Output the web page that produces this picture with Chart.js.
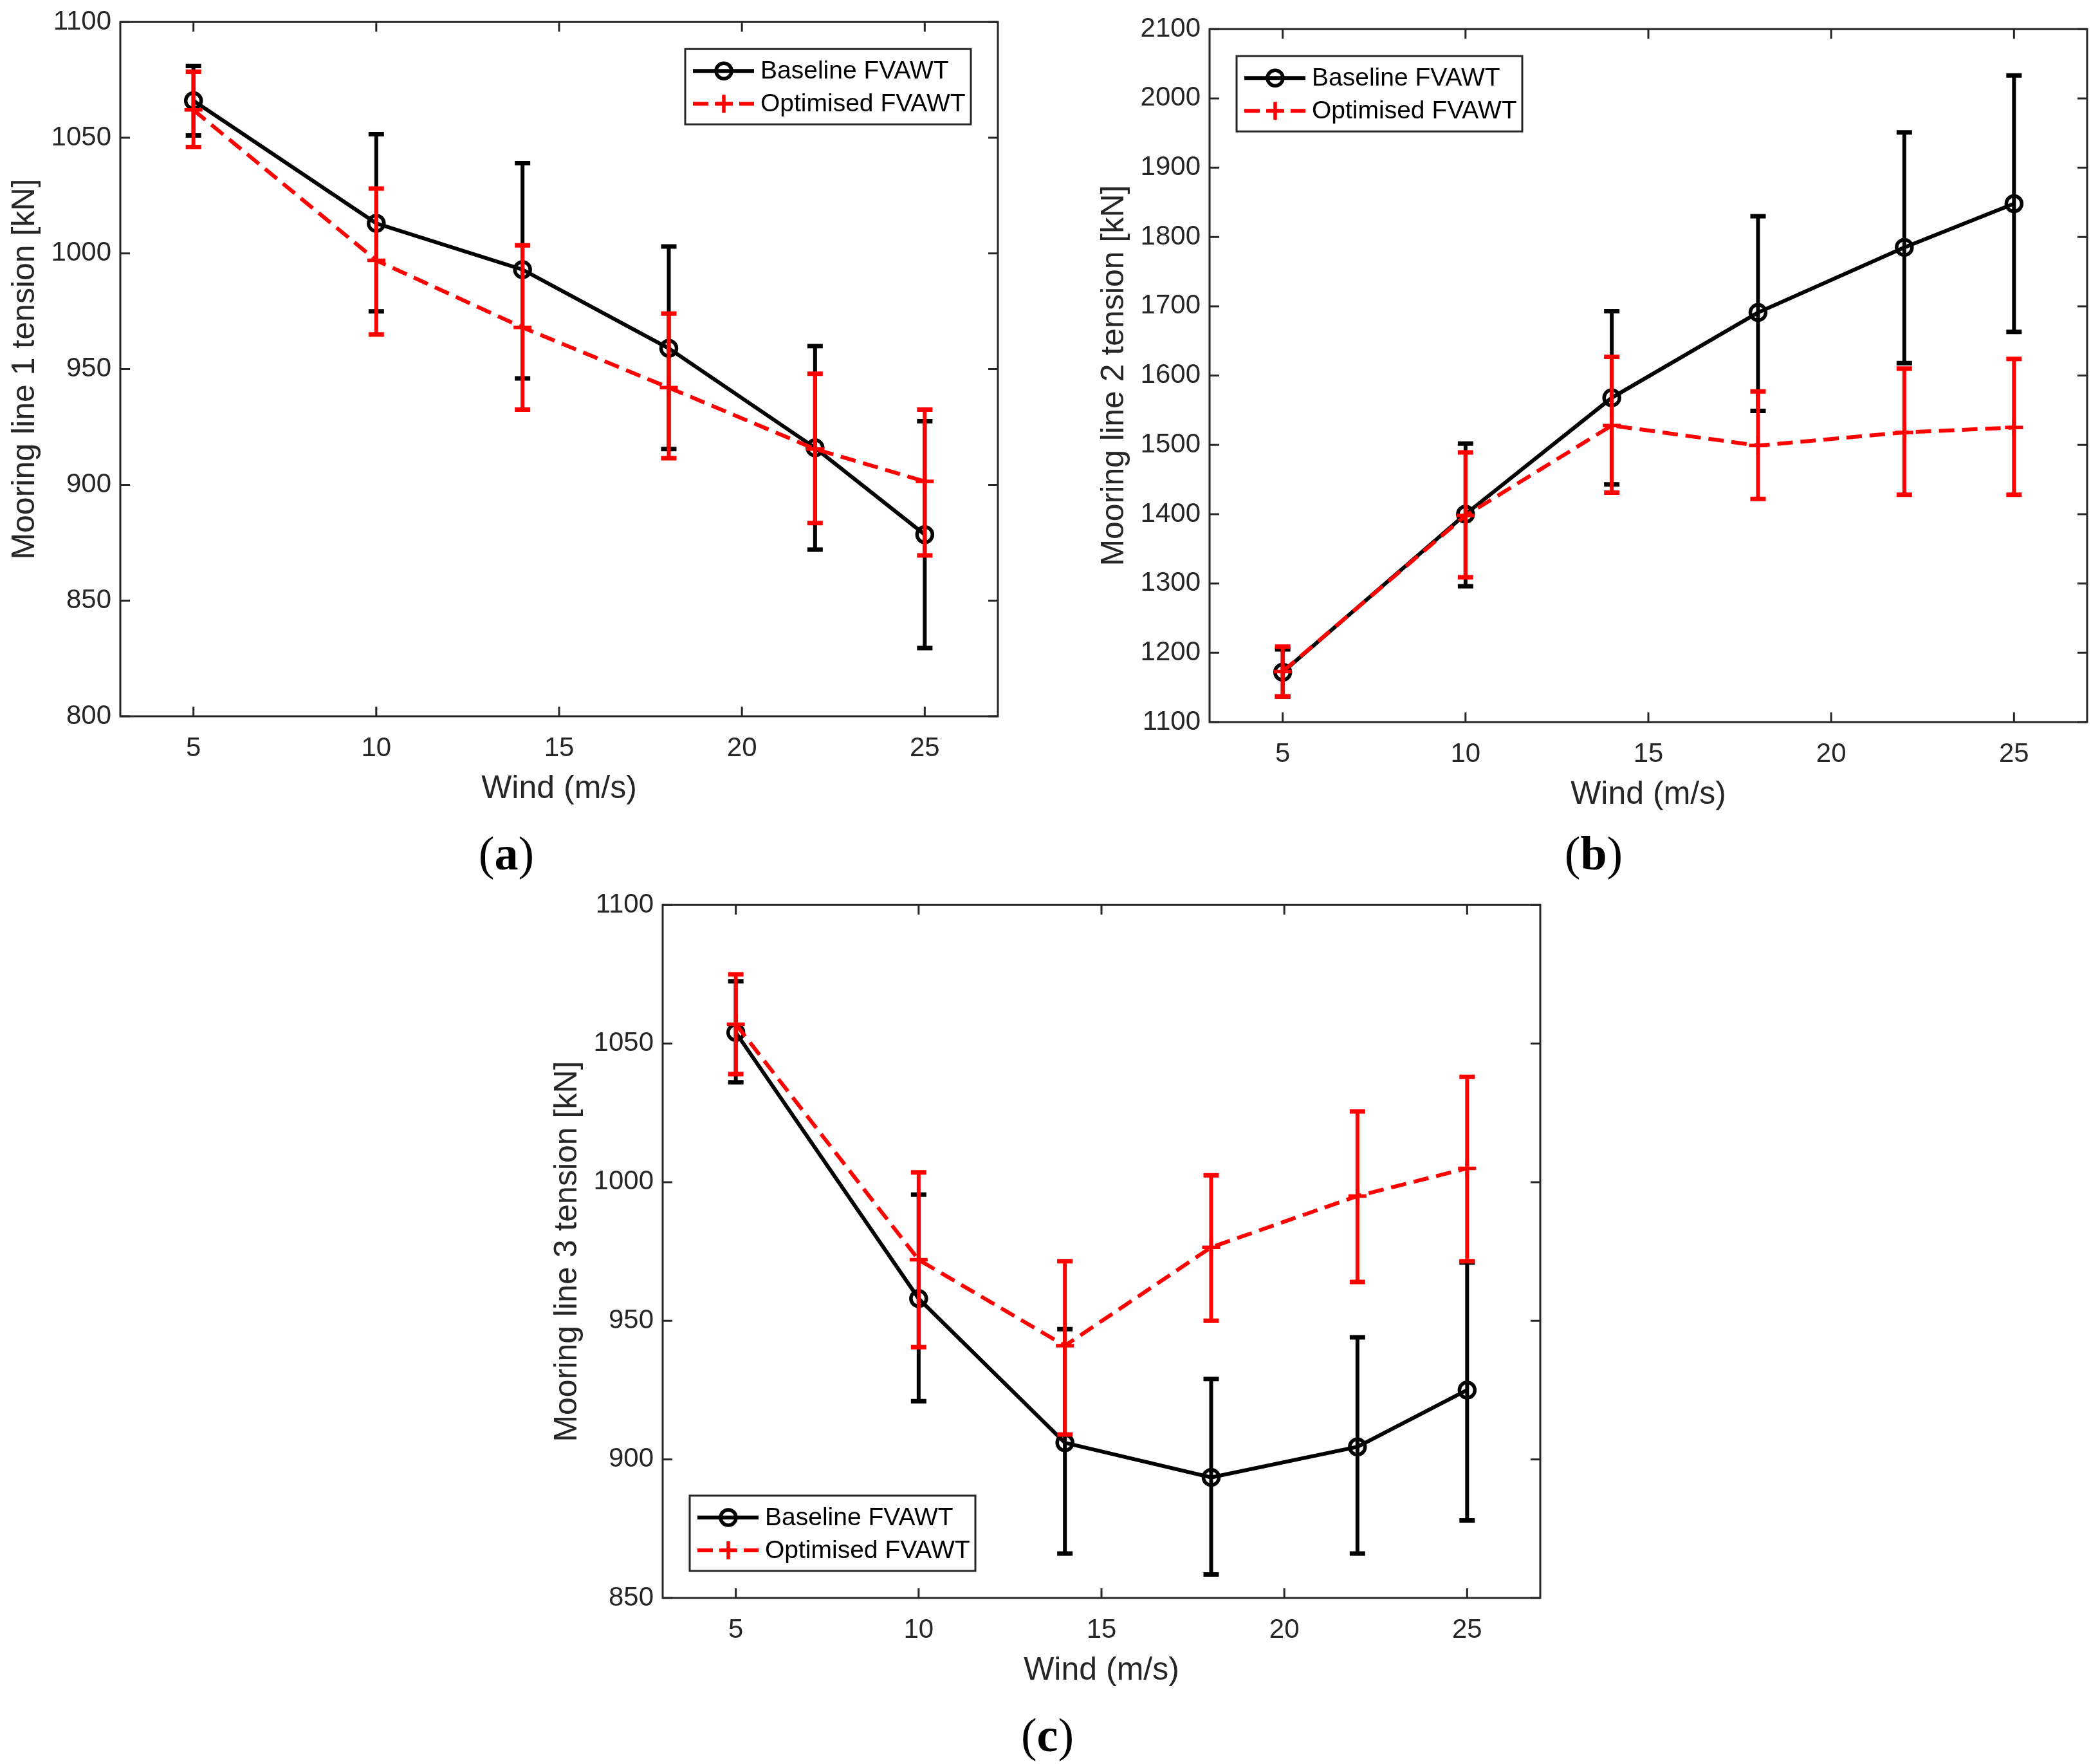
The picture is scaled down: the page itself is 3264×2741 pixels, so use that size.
<!DOCTYPE html>
<html>
<head>
<meta charset="utf-8">
<script src="https://cdn.jsdelivr.net/npm/chart.js@4.4.0/dist/chart.umd.min.js"></script>
<style>
html,body{margin:0;padding:0;background:#fff;width:3264px;height:2741px;overflow:hidden;position:relative;}
canvas{position:absolute;}
.lab{position:absolute;font-family:"Liberation Serif","DejaVu Serif",serif;font-size:74px;color:#000;transform:translate(-50%,-50%);white-space:nowrap;}
</style>
</head>
<body>
<canvas id="ca" width="1570" height="1304" style="left:1px;top:-5px;width:1570px;height:1304px"></canvas>
<canvas id="cb" width="1570" height="1302" style="left:1694px;top:6px;width:1570px;height:1302px"></canvas>
<canvas id="cc" width="1570" height="1302" style="left:844px;top:1367px;width:1570px;height:1302px"></canvas>
<div class="lab" style="left:787px;top:1326px">(<b>a</b>)</div>
<div class="lab" style="left:2477px;top:1326px">(<b>b</b>)</div>
<div class="lab" style="left:1628px;top:2696px">(<b>c</b>)</div>
<script>
// ---- data ----
const windSpeeds = [5, 10, 14, 18, 22, 25];
const xTicks = [5, 10, 15, 20, 25];
const seriesNames = ['Baseline FVAWT', 'Optimised FVAWT'];

// (a) mooring line 1
const aBase   = [1066, 1013, 993, 959, 916, 878.5];
const aBaseLo = [1051, 975, 946, 915.5, 872, 829.5];
const aBaseHi = [1081, 1051.5, 1039, 1003, 960, 927.5];
const aOpt    = [1062, 997, 968, 942, 915.5, 901.5];
const aOptLo  = [1046, 965, 932.5, 911.5, 883.5, 869.5];
const aOptHi  = [1078.5, 1028, 1003.5, 974, 948, 932.5];
const aYTicks = [800, 850, 900, 950, 1000, 1050, 1100];

// (b) mooring line 2
const bBase   = [1172, 1400, 1568, 1691, 1785, 1848];
const bBaseLo = [1137, 1296, 1443, 1549, 1618, 1663];
const bBaseHi = [1205, 1502, 1693, 1830, 1951, 2033];
const bOpt    = [1173, 1398, 1528, 1499, 1518, 1525];
const bOptLo  = [1137, 1309, 1431, 1422, 1428, 1428];
const bOptHi  = [1209, 1489, 1627, 1577, 1610, 1624];
const bYTicks = [1100, 1200, 1300, 1400, 1500, 1600, 1700, 1800, 1900, 2000, 2100];

// (c) mooring line 3
const cBase   = [1054, 958, 906, 893.5, 904.5, 925];
const cBaseLo = [1036, 921, 866, 858.5, 866, 878];
const cBaseHi = [1072.5, 995.5, 947, 929, 944, 971];
const cOpt    = [1057, 972, 941, 976.5, 995, 1005];
const cOptLo  = [1039, 940.5, 909, 950, 964, 971.5];
const cOptHi  = [1075, 1003.5, 971.5, 1002.5, 1025.5, 1038];
const cYTicks = [850, 900, 950, 1000, 1050, 1100];

// ---- styling ----
const FONT = '"Liberation Sans", Arial, Helvetica, sans-serif';
const AXC = '#262626';
const RED = '#ff0000';
const DASH = [24, 12];

const boxPlugin = {
  id: 'matlabBox',
  beforeDatasetsDraw(chart) {
    const {ctx, chartArea: a, scales} = chart;
    ctx.save();
    ctx.strokeStyle = AXC;
    ctx.lineWidth = 3;
    ctx.setLineDash([]);
    const tl = 15;
    ctx.beginPath();
    scales.x.ticks.forEach(t => {
      const px = scales.x.getPixelForValue(t.value);
      ctx.moveTo(px, a.bottom); ctx.lineTo(px, a.bottom - tl);
      ctx.moveTo(px, a.top); ctx.lineTo(px, a.top + tl);
    });
    scales.y.ticks.forEach(t => {
      const py = scales.y.getPixelForValue(t.value);
      ctx.moveTo(a.left, py); ctx.lineTo(a.left + tl, py);
      ctx.moveTo(a.right, py); ctx.lineTo(a.right - tl, py);
    });
    ctx.stroke();
    ctx.strokeRect(a.left, a.top, a.right - a.left, a.bottom - a.top);
    ctx.restore();
  },
  afterDatasetDraw(chart, args) {
    const ds = chart.data.datasets[args.index];
    if (!ds.errLo) return;
    const {ctx, scales} = chart;
    ctx.save();
    ctx.strokeStyle = ds.borderColor;
    ctx.setLineDash([]);
    ctx.lineCap = 'butt';
    const cap = 12;
    ds.data.forEach((p, i) => {
      const px = scales.x.getPixelForValue(p.x);
      const lo = scales.y.getPixelForValue(ds.errLo[i]);
      const hi = scales.y.getPixelForValue(ds.errHi[i]);
      ctx.lineWidth = 6;
      ctx.beginPath();
      ctx.moveTo(px, lo); ctx.lineTo(px, hi);
      ctx.stroke();
      ctx.lineWidth = 7;
      ctx.beginPath();
      ctx.moveTo(px - cap, lo); ctx.lineTo(px + cap, lo);
      ctx.moveTo(px - cap, hi); ctx.lineTo(px + cap, hi);
      ctx.stroke();
    });
    ctx.restore();
  },
  afterDraw(chart) {
    const o = chart.options.plugins.matlabBox;
    const {ctx, chartArea: a} = chart;
    const W = 444, H = 117, off = 42;
    let L, T;
    if (o.pos === 'tr') { L = a.right - off - W; T = a.top + off; }
    else if (o.pos === 'tl') { L = a.left + off; T = a.top + off; }
    else { L = a.left + off; T = a.bottom - off - H; }
    ctx.save();
    ctx.fillStyle = '#fff';
    ctx.fillRect(L, T, W, H);
    ctx.strokeStyle = AXC;
    ctx.lineWidth = 3;
    ctx.strokeRect(L, T, W, H);
    const rows = [T + 34, T + 85];
    chart.data.datasets.forEach((ds, i) => {
      const y = rows[i];
      ctx.strokeStyle = ds.borderColor;
      ctx.lineWidth = 6;
      ctx.setLineDash(ds.borderDash || []);
      ctx.beginPath();
      ctx.moveTo(L + 12, y); ctx.lineTo(L + 107, y);
      ctx.stroke();
      ctx.setLineDash([]);
      ctx.lineWidth = ds.pointBorderWidth;
      ctx.beginPath();
      const cx = L + 60, r = ds.pointRadius;
      if (ds.pointStyle === 'circle') {
        ctx.arc(cx, y, r, 0, Math.PI * 2);
      } else {
        ctx.moveTo(cx - r, y); ctx.lineTo(cx + r, y);
        ctx.moveTo(cx, y - r); ctx.lineTo(cx, y + r);
      }
      ctx.stroke();
      ctx.fillStyle = '#000';
      ctx.font = '39px ' + FONT;
      ctx.textBaseline = 'middle';
      ctx.textAlign = 'left';
      ctx.fillText(ds.label, L + 117, y + 1);
    });
    ctx.restore();
  }
};

function pts(ys) { return windSpeeds.map((x, i) => ({x: x, y: ys[i]})); }

function makeChart(id, base, baseLo, baseHi, opt, optLo, optHi, yTicks, yTitle, legendPos) {
  return new Chart(document.getElementById(id), {
    type: 'line',
    data: {
      datasets: [
        {
          label: seriesNames[0], data: pts(base), errLo: baseLo, errHi: baseHi,
          borderColor: '#000', borderWidth: 6, backgroundColor: 'rgba(0,0,0,0)',
          pointStyle: 'circle', pointRadius: 12, pointBorderWidth: 5.5,
          pointBorderColor: '#000', pointBackgroundColor: 'rgba(0,0,0,0)',
          tension: 0, order: 2, fill: false
        },
        {
          label: seriesNames[1], data: pts(opt), errLo: optLo, errHi: optHi,
          borderColor: RED, borderWidth: 6, borderDash: DASH, backgroundColor: 'rgba(0,0,0,0)',
          pointStyle: 'cross', pointRadius: 14, pointBorderWidth: 5.5,
          pointBorderColor: RED, pointBackgroundColor: RED,
          tension: 0, order: 1, fill: false
        }
      ]
    },
    options: {
      responsive: false, animation: false, devicePixelRatio: 1,
      layout: {padding: {top: 0, right: 20, left: 0, bottom: 0}},
      plugins: {legend: {display: false}, tooltip: {enabled: false}, matlabBox: {pos: legendPos}},
      scales: {
        x: {
          type: 'linear', min: 3, max: 27,
          afterBuildTicks: s => { s.ticks = xTicks.map(v => ({value: v})); },
          afterFit: s => { s.height = 186; },
          grid: {display: false, drawTicks: false}, border: {display: false},
          ticks: {font: {family: FONT, size: 42}, color: AXC, padding: 25, maxRotation: 0, autoSkip: false,
                  callback: v => String(v)},
          title: {display: true, text: 'Wind (m/s)', color: AXC, font: {family: FONT, size: 50}, padding: {top: 0, bottom: 43}}
        },
        y: {
          type: 'linear', min: yTicks[0], max: yTicks[yTicks.length - 1],
          afterBuildTicks: s => { s.ticks = yTicks.map(v => ({value: v})); },
          afterFit: s => { s.width = 186; },
          grid: {display: false, drawTicks: false}, border: {display: false},
          ticks: {font: {family: FONT, size: 42}, color: AXC, padding: 14, autoSkip: false,
                  callback: v => String(v)},
          title: {display: true, text: yTitle, color: AXC, font: {family: FONT, size: 50}, padding: {top: 8, bottom: 0}}
        }
      }
    },
    plugins: [boxPlugin]
  });
}

makeChart('ca', aBase, aBaseLo, aBaseHi, aOpt, aOptLo, aOptHi, aYTicks, 'Mooring line 1 tension [kN]', 'tr');
makeChart('cb', bBase, bBaseLo, bBaseHi, bOpt, bOptLo, bOptHi, bYTicks, 'Mooring line 2 tension [kN]', 'tl');
makeChart('cc', cBase, cBaseLo, cBaseHi, cOpt, cOptLo, cOptHi, cYTicks, 'Mooring line 3 tension [kN]', 'bl');
</script>
</body>
</html>
